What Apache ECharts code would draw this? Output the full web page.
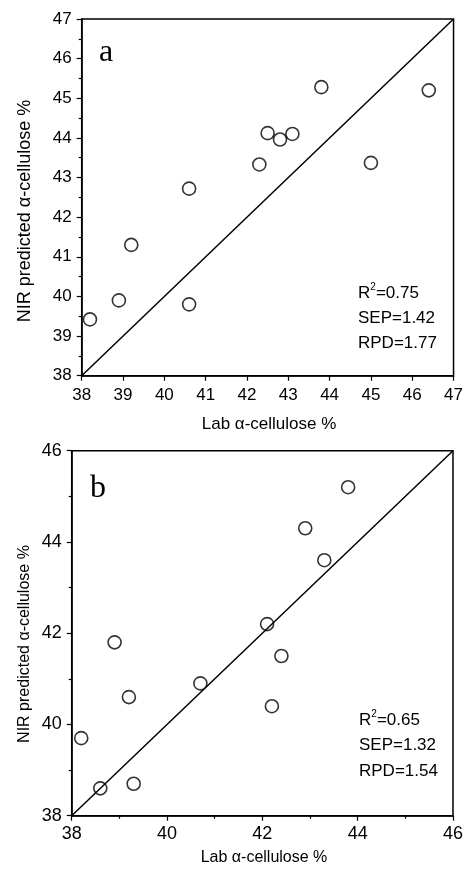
<!DOCTYPE html>
<html><head><meta charset="utf-8">
<script src="https://cdn.jsdelivr.net/npm/echarts@6/dist/echarts.min.js"></script>
<style>html,body{margin:0;padding:0;background:#fff}#c{width:466px;height:869px}</style>
</head><body><div id="c"></div>
<script>
// Panel a data
const labA = [38.2, 38.9, 39.2, 40.6, 40.6, 42.3, 42.5, 42.8, 43.1, 43.8, 45.0, 46.4];
const nirA = [39.42, 39.9, 41.3, 39.8, 42.72, 43.33, 44.12, 43.96, 44.1, 45.28, 43.37, 45.2];
// Panel b data
const labB = [38.2, 38.6, 38.9, 39.2, 39.3, 40.7, 42.1, 42.2, 42.4, 42.9, 43.3, 43.8];
const nirB = [39.7, 38.6, 41.8, 40.6, 38.7, 40.9, 42.2, 40.4, 41.5, 44.3, 43.6, 45.2];
const rangeA = [38, 47];
const rangeB = [38, 46];
const statsA = ['0.75', '1.42', '1.77'];
const statsB = ['0.65', '1.32', '1.54'];
const xTitle = 'Lab α-cellulose %';
const yTitle = 'NIR predicted α-cellulose %';

const FONT = '"Liberation Sans", Arial, sans-serif';
const SERIF = '"Liberation Serif", "Times New Roman", serif';

function pairs(xs, ys) { return xs.map((x, i) => [x, ys[i]]); }

function axis(gi, range, interval, minor, fs, margin) {
  return {
    type: 'value', gridIndex: gi, min: range[0], max: range[1], interval: interval,
    axisLine: { show: true, lineStyle: { color: '#000', width: 1.5 } },
    axisTick: { show: true, inside: false, length: 5, lineStyle: { color: '#000', width: 1.2 } },
    minorTick: { show: minor, splitNumber: 2, length: 3, lineStyle: { color: '#000', width: 1.2 } },
    splitLine: { show: false },
    axisLabel: { color: '#000', fontFamily: FONT, fontSize: fs, margin: margin, showMinLabel: true, showMaxLabel: true }
  };
}

function txt(x, y, s, size) {
  return { type: 'text', x: x, y: y, style: { text: s, fontFamily: FONT, fontSize: size, fill: '#000', textVerticalAlign: 'middle' } };
}

function statsText(x, y0, step, st) {
  const rW = 12.3; // width of "R" at 17px
  return [
    txt(x, y0, 'R', 17),
    txt(x + rW, y0 - 6, '2', 10),
    txt(x + rW + 5.6, y0, '=' + st[0], 17),
    txt(x, y0 + step, 'SEP=' + st[1], 17),
    txt(x, y0 + 2 * step, 'RPD=' + st[2], 17)
  ];
}

const chart = echarts.init(document.getElementById('c'), null, { renderer: 'canvas' });
chart.setOption({
  animation: false,
  backgroundColor: '#fff',
  grid: [
    { left: 81.7, top: 19, width: 375, height: 356.7, show: true, borderColor: '#000', borderWidth: 1.5, backgroundColor: 'transparent' },
    { left: 71.7, top: 450.7, width: 384, height: 365, show: true, borderColor: '#000', borderWidth: 1.5, backgroundColor: 'transparent' }
  ],
  xAxis: [
    axis(0, rangeA, 1, false, 17, 11),
    axis(1, rangeB, 2, true, 18, 9)
  ],
  yAxis: [
    axis(0, rangeA, 1, true, 17, 10),
    axis(1, rangeB, 2, true, 18, 10)
  ],
  series: [
    { type: 'line', xAxisIndex: 0, yAxisIndex: 0, data: [[rangeA[0], rangeA[0]], [rangeA[1], rangeA[1]]], symbol: 'none', lineStyle: { color: '#000', width: 1.5 }, silent: true },
    { type: 'scatter', xAxisIndex: 0, yAxisIndex: 0, data: pairs(labA, nirA), symbol: 'circle', symbolSize: 13, itemStyle: { color: 'rgba(0,0,0,0)', borderColor: '#000', borderWidth: 1.6 } },
    { type: 'line', xAxisIndex: 1, yAxisIndex: 1, data: [[rangeB[0], rangeB[0]], [rangeB[1], rangeB[1]]], symbol: 'none', lineStyle: { color: '#000', width: 1.5 }, silent: true },
    { type: 'scatter', xAxisIndex: 1, yAxisIndex: 1, data: pairs(labB, nirB), symbol: 'circle', symbolSize: 13, itemStyle: { color: 'rgba(0,0,0,0)', borderColor: '#000', borderWidth: 1.6 } }
  ],
  graphic: [
    { type: 'text', x: 99, y: 52.5, style: { text: 'a', fontFamily: SERIF, fontSize: 32, fill: '#000', textVerticalAlign: 'middle' } },
    { type: 'text', x: 90, y: 489, style: { text: 'b', fontFamily: SERIF, fontSize: 32, fill: '#000', textVerticalAlign: 'middle' } },
    { type: 'text', x: 269, y: 424, style: { text: xTitle, fontFamily: FONT, fontSize: 17, fill: '#000', textAlign: 'center', textVerticalAlign: 'middle' } },
    { type: 'text', x: 264, y: 858, style: { text: xTitle, fontFamily: FONT, fontSize: 16, fill: '#000', textAlign: 'center', textVerticalAlign: 'middle' } },
    { type: 'text', x: 25, y: 211, rotation: Math.PI / 2, style: { text: yTitle, fontFamily: FONT, fontSize: 18, fill: '#000', textAlign: 'center', textVerticalAlign: 'middle' } },
    { type: 'text', x: 25, y: 644, rotation: Math.PI / 2, style: { text: yTitle, fontFamily: FONT, fontSize: 16, fill: '#000', textAlign: 'center', textVerticalAlign: 'middle' } }
  ].concat(statsText(358, 293, 25, statsA)).concat(statsText(359, 720, 25.7, statsB))
});
</script></body></html>
